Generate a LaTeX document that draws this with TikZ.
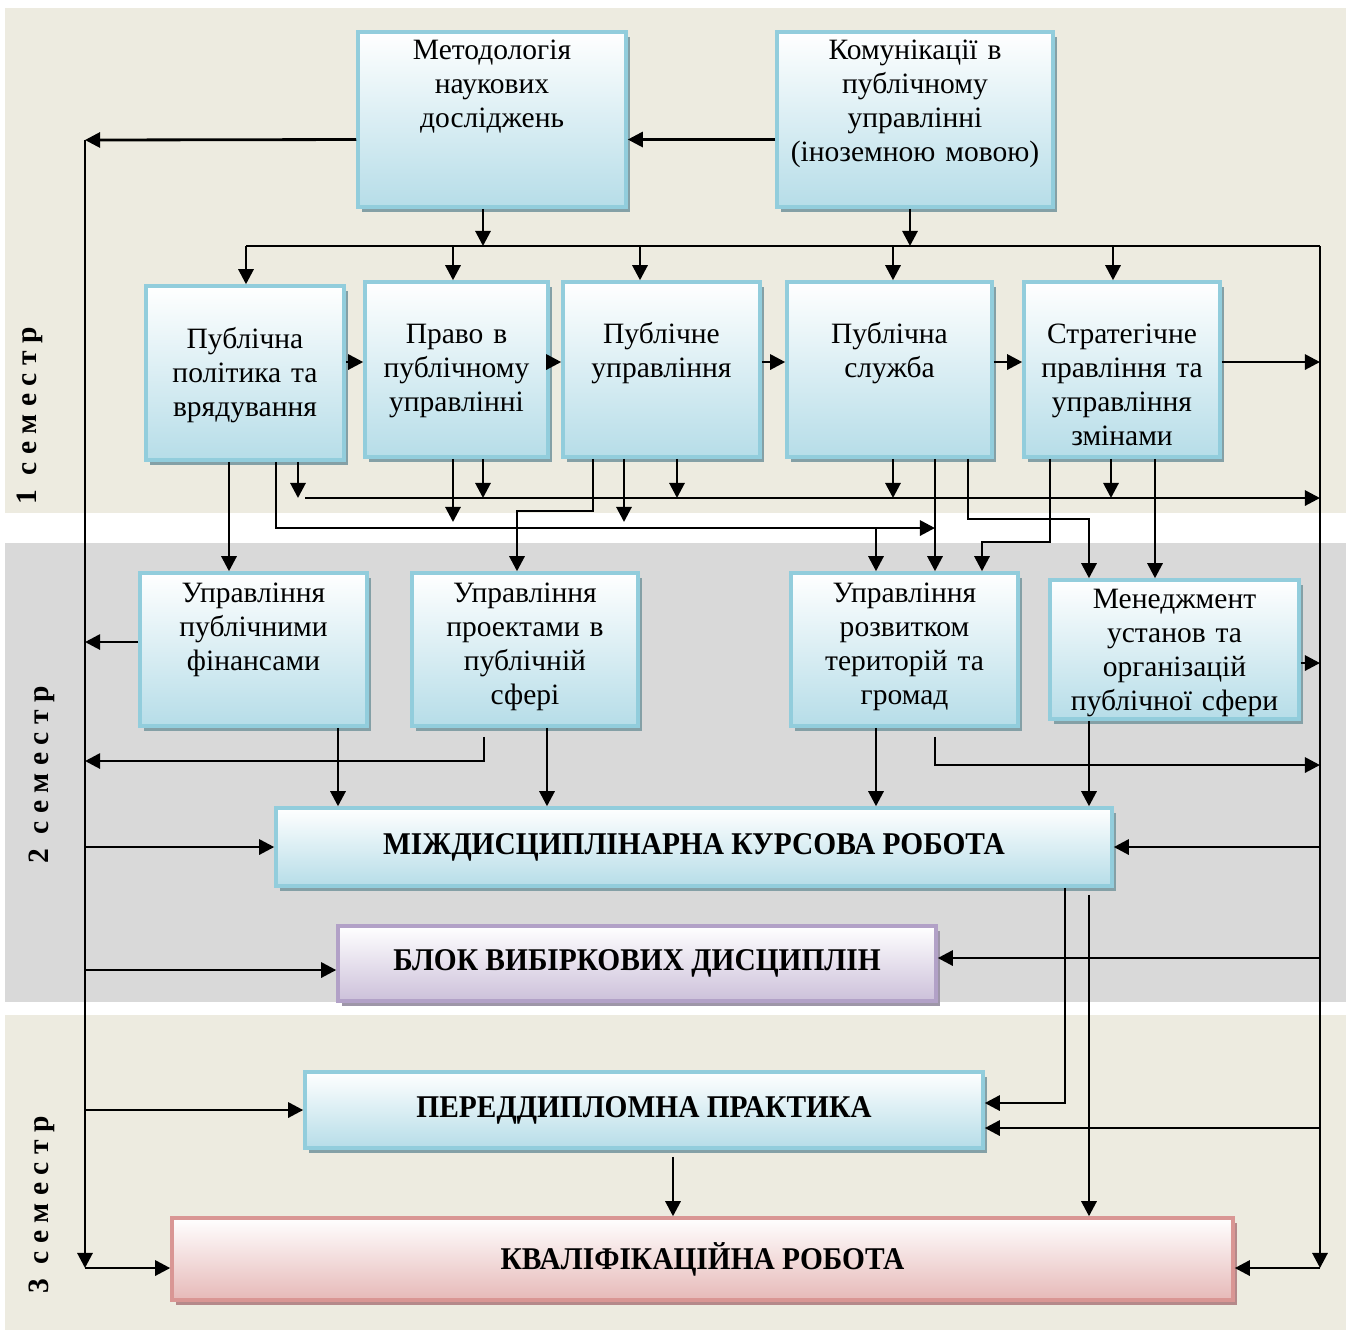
\documentclass[tikz,border=0pt]{standalone}
\usepackage{fontspec}
\setmainfont{Liberation Serif}
\newfontfamily\titulfont[FakeStretch=0.93]{Liberation Serif}
\usepackage{tikz}
\usetikzlibrary{positioning,calc,shadows}
\usetikzlibrary{arrows.meta}
\definecolor{bez}{RGB}{237,235,224}
\definecolor{sira}{RGB}{217,217,217}
\definecolor{plava}{RGB}{182,221,232}
\definecolor{plavarub}{RGB}{146,205,220}
\definecolor{plavatin}{RGB}{132,160,166}
\definecolor{buzk}{RGB}{204,192,218}
\definecolor{buzkrub}{RGB}{178,161,199}
\definecolor{buzktin}{RGB}{158,150,168}
\definecolor{roz}{RGB}{230,185,184}
\definecolor{rozrub}{RGB}{217,150,148}
\definecolor{roztin}{RGB}{181,137,138}
\newcommand{\titul}{\titulfont\fontsize{9}{10}\selectfont\bfseries}
\tikzstyle{disciplina} = [rectangle, draw=plavarub, line width=1pt, top color=white, bottom color=plava,
general shadow={fill=plavatin, shadow xshift=0.35mm, shadow yshift=-0.5mm}]
\tikzstyle{vybirkova} = [rectangle, draw=buzkrub, line width=1pt, top color=white, bottom color=buzk,
general shadow={fill=buzktin, shadow xshift=0.35mm, shadow yshift=-0.5mm}]
\tikzstyle{kvalif} = [rectangle, draw=rozrub, line width=1pt, top color=white, bottom color=roz,
general shadow={fill=roztin, shadow xshift=0.35mm, shadow yshift=-0.5mm}]
\tikzstyle{napys} = [text width=30mm, align=center, inner sep=0pt, font=\fontsize{8.4}{9.7}\selectfont]
\tikzstyle{semestr} = [rotate=90, font=\fontsize{8.4}{10}\selectfont\bfseries]
\tikzstyle{liniya} = [line width=0.8pt]
\tikzstyle{strilka} = [line width=0.8pt, -{Triangle[length=4.3pt,width=4.3pt]}]

\begin{document}
\begin{tikzpicture}[x=0.1mm,y=-0.1mm]
\useasboundingbox (0,0) rectangle (1350,1331);
% smuhy semestriv
\fill[bez] (5,8) rectangle (1346,513);
\fill[sira] (5,543) rectangle (1346,1002);
\fill[bez] (5,1015) rectangle (1346,1330);
\node[semestr] (s1) at (30,416) {1 \ с е м е с т р};
\node[semestr] (s2) at (42,775) {2 \ с е м е с т р};
\node[semestr] (s3) at (42,1205) {3 \ с е м е с т р};

% dyscypliny
\node (met) at (492,119.5) [disciplina, minimum width=26.8mm, minimum height=17.5mm] {};
\node (kom) at (915,119.5) [disciplina, minimum width=27.6mm, minimum height=17.5mm] {};
\node (pol) at (245,373) [disciplina, minimum width=19.8mm, minimum height=17.4mm] {};
\node (prav) at (456.5,369.5) [disciplina, minimum width=18.3mm, minimum height=17.5mm] {};
\node (pupr) at (661.5,369.5) [disciplina, minimum width=19.7mm, minimum height=17.5mm] {};
\node (sluzh) at (889.5,369.5) [disciplina, minimum width=20.5mm, minimum height=17.5mm] {};
\node (strat) at (1122,369.5) [disciplina, minimum width=19.6mm, minimum height=17.5mm] {};
\node (fin) at (253.5,649.5) [disciplina, minimum width=22.7mm, minimum height=15.3mm] {};
\node (proj) at (525,649.5) [disciplina, minimum width=22.6mm, minimum height=15.3mm] {};
\node (terr) at (904.5,649.5) [disciplina, minimum width=22.7mm, minimum height=15.3mm] {};
\node (men) at (1174.5,649.5) [disciplina, minimum width=24.9mm, minimum height=13.9mm] {};
\node (mkr) at (694,847) [disciplina, minimum width=83.6mm, minimum height=7.8mm, font=\titul] {МІЖДИСЦИПЛІНАРНА КУРСОВА РОБОТА};
\node (blok) at (637,963.5) [vybirkova, minimum width=59.8mm, minimum height=7.5mm, font=\titul] {БЛОК ВИБІРКОВИХ ДИСЦИПЛІН};
\node (pp) at (644,1110) [disciplina, minimum width=67.8mm, minimum height=7.6mm, font=\titul] {ПЕРЕДДИПЛОМНА ПРАКТИКА};
\node (kr) at (702.5,1259) [kvalif, minimum width=106.1mm, minimum height=8.2mm, font=\titul] {КВАЛІФІКАЦІЙНА РОБОТА};

% napysy
\node[napys, anchor=base] (metT) at ([yshift=-2.9mm]met.north) {Методологія\\наукових\\досліджень};
\node[napys, anchor=base] (komT) at ([yshift=-2.9mm]kom.north) {Комунікації в\\публічному\\управлінні\\(іноземною мовою)};
\node[napys, anchor=base] (polT) at ([yshift=-6.4mm]pol.north) {Публічна\\політика та\\врядування};
\node[napys, anchor=base] (pravT) at ([yshift=-6.3mm]prav.north) {Право в\\публічному\\управлінні};
\node[napys, anchor=base] (puprT) at ([yshift=-6.3mm]pupr.north) {Публічне\\управління};
\node[napys, anchor=base] (sluzhT) at ([yshift=-6.3mm]sluzh.north) {Публічна\\служба};
\node[napys, anchor=base] (stratT) at ([yshift=-6.3mm]strat.north) {Стратегічне\\правління та\\управління\\змінами};
\node[napys, anchor=base] (finT) at ([yshift=-3.1mm]fin.north) {Управління\\публічними\\фінансами};
\node[napys, anchor=base] (projT) at ([yshift=-3.1mm]proj.north) {Управління\\проектами в\\публічній\\сфері};
\node[napys, anchor=base] (terrT) at ([yshift=-3.1mm]terr.north) {Управління\\розвитком\\територій та\\громад};
\node[napys, anchor=base] (menT) at ([yshift=-3mm]men.north) {Менеджмент\\установ та\\організацій\\публічної сфери};

% shyny
\coordinate (lv) at (85,140);
\coordinate (ln) at (85,1268);
\coordinate (pv) at (1320,246);
\coordinate (pn) at (1320,1268);
\coordinate (rjad) at (0,362);

\draw[strilka] ([yshift=-2mm]kom.west) -- ([yshift=-2mm]met.east);
\draw[strilka] ([yshift=-2mm]met.west) -- (lv);
\draw[strilka] (lv) -- (ln);
\draw[strilka] (ln) -- (kr.west |- ln);
\draw[liniya] (246,246) -- (pv);
\draw[strilka] (pv) -- (pn);
\draw[strilka] (pn) -- (kr.east |- pn);
\draw[strilka] (met.south -| 483,0) -- (483,246);
\draw[strilka] (kom.south -| 910,0) -- (910,246);
\foreach \x/\n in {246/pol,453/prav,640/pupr,893/sluzh,1113/strat}
  \draw[strilka] (\x,246) -- (\n.north -| \x,0);

\draw[strilka] (pol.east |- rjad) -- (prav.west |- rjad);
\draw[strilka] (prav.east |- rjad) -- (pupr.west |- rjad);
\draw[strilka] (pupr.east |- rjad) -- (sluzh.west |- rjad);
\draw[strilka] (sluzh.east |- rjad) -- (strat.west |- rjad);
\draw[strilka] (strat.east |- rjad) -- (pv |- rjad);

\draw[strilka] (305,498) -- (pv |- 0,498);
\foreach \x/\n in {298/pol,483/prav,677/pupr,893/sluzh,1111/strat}
  \draw[strilka] (\n.south -| \x,0) -- (\x,498);

\draw[strilka] (pol.south -| 276,0) -- (276,528) -- (935,528);
\draw[strilka] (prav.south -| 453,0) -- (453,522);
\draw[strilka] (pupr.south -| 624,0) -- (624,522);
\draw[strilka] (876,528) -- (terr.north -| 876,0);
\draw[strilka] (pol.south -| 229,0) -- (fin.north -| 229,0);
\draw[strilka] (pupr.south -| 593,0) -- (593,511) -- (517,511) -- (proj.north -| 517,0);
\draw[strilka] (sluzh.south -| 935,0) -- (terr.north -| 935,0);
\draw[strilka] (sluzh.south -| 968,0) -- (968,519) -- (1089,519) -- (men.north -| 1089,0);
\draw[strilka] (strat.south -| 1050,0) -- (1050,542) -- (982,542) -- (terr.north -| 982,0);
\draw[strilka] (strat.south -| 1155,0) -- (men.north -| 1155,0);

\draw[strilka] (fin.west |- 0,642) -- (lv |- 0,642);
\draw[strilka] (fin.south -| 338,0) -- (mkr.north -| 338,0);
\draw[strilka] ($(proj.south -| 484,0)+(0,9)$) -- (484,761) -- (lv |- 0,761);
\draw[strilka] (proj.south -| 547,0) -- (mkr.north -| 547,0);
\draw[strilka] (terr.south -| 876,0) -- (mkr.north -| 876,0);
\draw[strilka] ($(terr.south -| 935,0)+(0,9)$) -- (935,765) -- (pv |- 0,765);
\draw[strilka] (men.east |- 0,663) -- (pv |- 0,663);
\draw[strilka] (men.south -| 1089,0) -- (mkr.north -| 1089,0);

\draw[strilka] (lv |- mkr.west) -- (mkr.west);
\draw[strilka] (pv |- mkr.east) -- (mkr.east);
\draw[strilka] (mkr.south -| 1065,0) -- (1065,1103) -- (pp.east |- 0,1103);
\draw[strilka] ($(mkr.south -| 1089,0)+(0,7)$) -- (kr.north -| 1089,0);
\draw[strilka] (lv |- 0,970) -- (blok.west |- 0,970);
\draw[strilka] (pv |- 0,958) -- (blok.east |- 0,958);
\draw[strilka] (lv |- pp.west) -- (pp.west);
\draw[strilka] (pv |- 0,1128) -- (pp.east |- 0,1128);
\draw[strilka] ($(pp.south -| 673,0)+(0,7)$) -- (kr.north -| 673,0);
\end{tikzpicture}
\end{document}
